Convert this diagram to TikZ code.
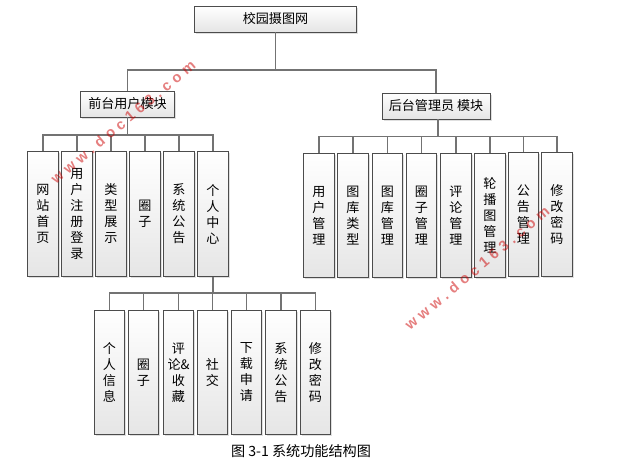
\documentclass[tikz,border=0pt]{standalone}
\usepackage{fontspec}
\setmainfont{Noto Sans CJK SC}
\newfontfamily\markfont[LetterSpace=32]{Liberation Sans}
\usetikzlibrary{shadows}
\tikzset{
  funcbox/.style={draw=black!70,line width=0.7pt,top color=white,bottom color=black!10,
    drop shadow={shadow xshift=1.2pt,shadow yshift=-1.2pt,opacity=0.25},
    inner sep=0pt,align=center,font=\fontsize{9.8}{12}\selectfont},
  leafbox/.style={funcbox,minimum width=22.8pt,minimum height=93.5pt},
  topbox/.style={funcbox,minimum height=19.5pt},
  link/.style={draw=black!55,line width=0.9pt},
  markup/.style={text=red!80!black,opacity=0.5,rotate=40,font=\markfont\bfseries\fontsize{11}{11}\selectfont}
}
\begin{document}
\begin{tikzpicture}
        [x=0.75pt,y=-0.75pt]
        \useasboundingbox (0,0) rectangle (626,463);

        \coordinate (rootbus) at (275.5,70);
        \coordinate (frontbus) at (127.5,135);
        \coordinate (backbus) at (438,136.5);
        \coordinate (userbus) at (213,293);

        \node[topbox,minimum width=122pt] (root) at (275.5,19) {校园摄图网};
        \node[topbox,minimum width=71pt] (front) at (127.5,104) {前台用户模块};
        \node[topbox,minimum width=81pt] (back) at (436,106) {后台管理员 模块};

        \foreach \i/\x/\name in {1/43/网\\站\\首\\页,2/77/用\\户\\注\\册\\登\\录,3/111/类\\型\\展\\示,
          4/145/圈\\子,5/179/系\\统\\公\\告,6/213/个\\人\\中\\心}
        {\node[leafbox] (front\i) at (\x,214) {\name};
         \draw[link] (frontbus) -| (front\i.north);}

        \foreach \i/\x/\y/\name in {1/319/215.5/用\\户\\管\\理,2/353/215.5/图\\库\\类\\型,
          3/387.5/215.5/图\\库\\管\\理,4/421.5/215.5/圈\\子\\管\\理,5/456/215.5/评\\论\\管\\理,
          6/490/215.5/轮\\播\\图\\管\\理,7/523.5/214.5/公\\告\\管\\理,8/557/214.5/修\\改\\密\\码}
        {\node[leafbox] (back\i) at (\x,\y) {\name};
         \draw[link] (backbus) -| (back\i.north);}

        \foreach \i/\x/\name in {1/109.5/个\\人\\信\\息,2/143.5/圈\\子,3/178.5/评\\论\&\\收\\藏,
          4/212.5/社\\交,5/246.5/下\\载\\申\\请,6/281/系\\统\\公\\告,7/315.5/修\\改\\密\\码}
        {\node[leafbox] (user\i) at (\x,372.5) {\name};
         \draw[link] (userbus) -| (user\i.north);}

        \draw[link] (root.south) -- (rootbus);
        \draw[link] (rootbus) -| (front.north);
        \draw[link] (rootbus) -| (back.north);
        \draw[link] (front.south) -- (frontbus);
        \draw[link] (back.south -| backbus) -- (backbus);
        \draw[link] (front6.south) -- (userbus);

        \node[font=\fontsize{10.6}{12}\selectfont] (caption) at (301,451) {图 3-1 系统功能结构图};

        \node[markup] (markleft) at (123,122) {www.doc163.com};
        \node[markup] (markright) at (477,268) {www.doc163.com};
      \end{tikzpicture}
\end{document}
